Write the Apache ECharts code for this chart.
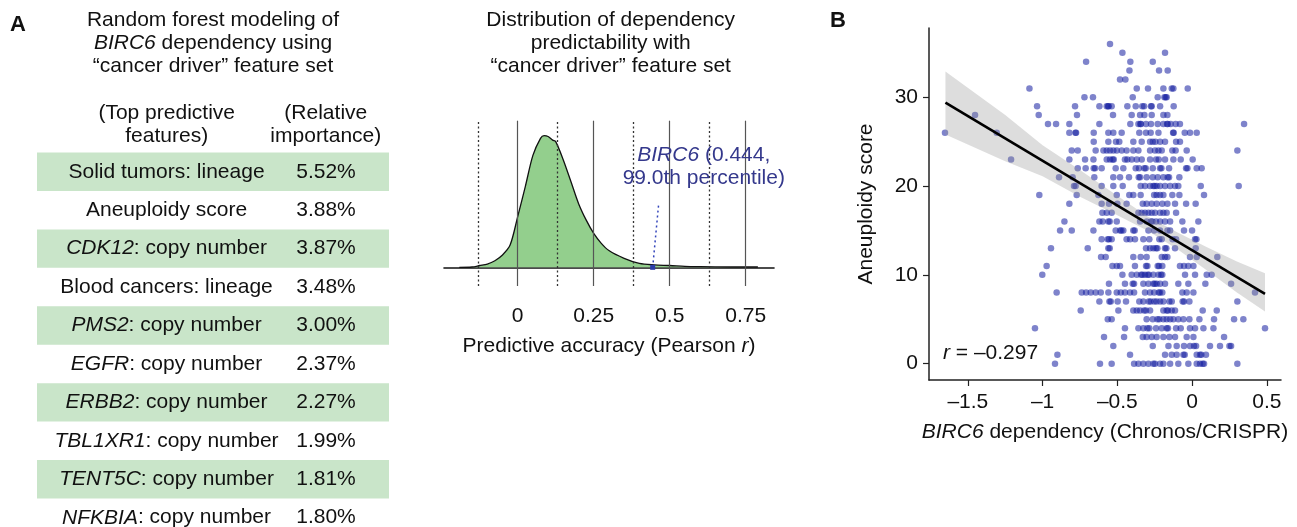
<!DOCTYPE html>
<html>
<head>
<meta charset="utf-8">
<script src="https://cdn.jsdelivr.net/npm/echarts@6/dist/echarts.min.js"></script>
<style>
html, body { margin: 0; padding: 0; background: #fff; }
#contain { width: 1297px; height: 527px; }
</style>
</head>
<body>
<div id="contain"></div>
<script>
// ---- panel A: feature table ----
const featureGene = ['', '', 'CDK12', '', 'PMS2', 'EGFR', 'ERBB2', 'TBL1XR1', 'TENT5C', 'NFKBIA'];
const featureRest = ['Solid tumors: lineage', 'Aneuploidy score', ': copy number', 'Blood cancers: lineage',
  ': copy number', ': copy number', ': copy number', ': copy number', ': copy number', ': copy number'];
const importance = ['5.52%', '3.88%', '3.87%', '3.48%', '3.00%', '2.37%', '2.27%', '1.99%', '1.81%', '1.80%'];
const rowShaded = [1, 0, 1, 0, 1, 0, 1, 0, 1, 0];

// ---- panel A: predictability density ----
const accuracy = [-0.192, -0.15, -0.125, -0.1, -0.075, -0.05, -0.025, 0, 0.025, 0.05, 0.075, 0.087, 0.1, 0.115,
  0.125, 0.15, 0.175, 0.2, 0.225, 0.25, 0.275, 0.3, 0.35, 0.4, 0.45, 0.5, 0.55, 0.6, 0.7, 0.79];
const density = [0, 0.01, 0.06, 0.11, 0.22, 0.41, 0.74, 1.69, 2.69, 3.73, 4.30, 4.39, 4.36, 4.24,
  4.19, 3.58, 2.86, 2.13, 1.58, 1.13, 0.80, 0.56, 0.30, 0.13, 0.08, 0.06, 0.03, 0.02, 0.01, 0.01];
const solidRefs = [0, 0.25, 0.5, 0.75];
const dottedRefs = [-0.125, 0.125, 0.375, 0.625];
const accTicks = [0, 0.25, 0.5, 0.75];
const birc6Acc = 0.444;
const birc6Leader = [0.464, 2.15];

// ---- panel B: aneuploidy vs BIRC6 dependency ----
// index = aneuploidy score, values = BIRC6 Chronos scores of the cell lines on that row
const depByScore = [
  [-0.917, -0.616, -0.538, -0.388, -0.359, -0.326, -0.292, -0.259, -0.248, -0.214, -0.192, -0.147, -0.092, -0.025, 0.031, 0.053, 0.071, 0.080, 0.303],
  [-0.901, -0.415, -0.181, -0.136, -0.103, -0.058, -0.049, 0.031, 0.053, 0.062, 0.093],
  [-0.527, -0.263, -0.158, -0.103, -0.054, -0.014, 0.013, 0.027, 0.120, 0.187, 0.250, 0.261],
  [-0.589, -0.455, -0.330, -0.304, -0.270, -0.237, -0.192, -0.152, -0.114, -0.036, 0.009, 0.214],
  [-1.051, -0.449, -0.359, -0.326, -0.299, -0.286, -0.241, -0.203, -0.170, -0.161, -0.107, -0.076, -0.014, 0.020, 0.076, 0.143, 0.488],
  [-0.564, -0.538, -0.304, -0.263, -0.232, -0.219, -0.192, -0.170, -0.147, -0.125, -0.092, -0.058, -0.018, 0.049, 0.147, 0.281, 0.343],
  [-0.745, -0.493, -0.393, -0.370, -0.348, -0.321, -0.308, -0.281, -0.192, -0.170, -0.161, -0.136, -0.114, 0.071, 0.165],
  [-0.620, -0.553, -0.544, -0.498, -0.442, -0.353, -0.326, -0.290, -0.277, -0.254, -0.237, -0.214, -0.192, -0.152, -0.136, -0.063, -0.054, -0.018, 0.303],
  [-0.906, -0.738, -0.709, -0.678, -0.645, -0.611, -0.560, -0.504, -0.477, -0.449, -0.415, -0.388, -0.315, -0.281, -0.254, -0.223, -0.215, -0.199, -0.065, -0.036, 0.009, 0.421],
  [-0.556, -0.449, -0.397, -0.388, -0.326, -0.292, -0.259, -0.250, -0.237, -0.214, -0.181, -0.092, -0.025, 0.089, 0.261],
  [-1.002, -0.466, -0.404, -0.370, -0.341, -0.332, -0.315, -0.297, -0.288, -0.259, -0.225, -0.208, -0.199, -0.047, 0.020, 0.098, 0.131],
  [-0.973, -0.533, -0.504, -0.482, -0.382, -0.308, -0.299, -0.230, -0.221, -0.199, -0.081, -0.054, -0.025, 0.009],
  [-0.609, -0.578, -0.393, -0.344, -0.304, -0.203, -0.181, -0.165, -0.014, 0.031, 0.169],
  [-0.944, -0.698, -0.560, -0.551, -0.308, -0.281, -0.259, -0.241, -0.232, -0.181, -0.172, -0.114, 0.024],
  [-0.605, -0.564, -0.556, -0.538, -0.438, -0.415, -0.382, -0.326, -0.286, -0.219, -0.203, -0.130, -0.107, 0.020, 0.029],
  [-0.883, -0.805, -0.660, -0.511, -0.482, -0.473, -0.460, -0.393, -0.384, -0.292, -0.254, -0.214, -0.165, -0.147, -0.054, 0.000],
  [-0.854, -0.620, -0.598, -0.560, -0.551, -0.504, -0.348, -0.304, -0.275, -0.266, -0.241, -0.214, -0.181, -0.147, -0.065, 0.042],
  [-0.600, -0.571, -0.538, -0.359, -0.337, -0.315, -0.292, -0.270, -0.248, -0.214, -0.192, -0.170, -0.107],
  [-0.821, -0.605, -0.556, -0.500, -0.438, -0.330, -0.304, -0.270, -0.237, -0.199, -0.165, -0.114, -0.040, 0.024],
  [-1.022, -0.772, -0.627, -0.504, -0.420, -0.393, -0.344, -0.254, -0.237, -0.214, -0.192, -0.132, -0.085, 0.080],
  [-0.790, -0.779, -0.605, -0.527, -0.464, -0.344, -0.315, -0.281, -0.259, -0.250, -0.237, -0.214, -0.181, -0.147, -0.114, -0.092, 0.058, 0.312],
  [-0.890, -0.799, -0.654, -0.527, -0.482, -0.422, -0.357, -0.348, -0.304, -0.263, -0.230, -0.192, -0.163, -0.154, -0.085],
  [-0.765, -0.712, -0.658, -0.649, -0.605, -0.511, -0.460, -0.377, -0.355, -0.319, -0.310, -0.263, -0.214, -0.205, -0.154, -0.040, -0.031, 0.031, 0.064],
  [-1.211, -0.821, -0.716, -0.660, -0.571, -0.549, -0.531, -0.524, -0.449, -0.433, -0.404, -0.370, -0.337, -0.281, -0.241, -0.223, -0.181, -0.125, -0.076, 0.004],
  [-0.805, -0.765, -0.645, -0.593, -0.571, -0.549, -0.527, -0.504, -0.471, -0.438, -0.393, -0.359, -0.281, -0.248, -0.225, -0.203, -0.132, -0.110, -0.036, 0.303],
  [-0.658, -0.560, -0.509, -0.487, -0.393, -0.337, -0.281, -0.263, -0.245, -0.214, -0.181, -0.107, -0.081],
  [-1.653, -1.307, -0.821, -0.780, -0.776, -0.658, -0.560, -0.527, -0.471, -0.353, -0.308, -0.277, -0.225, -0.127, -0.123, -0.049, -0.014, 0.031],
  [-0.964, -0.910, -0.821, -0.620, -0.413, -0.359, -0.346, -0.342, -0.308, -0.275, -0.230, -0.192, -0.167, -0.163, -0.143, -0.110, -0.081, 0.348],
  [-1.452, -1.026, -0.770, -0.529, -0.404, -0.348, -0.319, -0.270, -0.192, -0.165],
  [-1.037, -0.783, -0.620, -0.571, -0.562, -0.558, -0.538, -0.433, -0.377, -0.333, -0.321, -0.275, -0.270, -0.214, -0.123],
  [-0.720, -0.663, -0.397, -0.230, -0.185, -0.177, -0.170],
  [-1.088, -0.370, -0.295, -0.192, -0.136, -0.125, -0.029],
  [-0.482, -0.446],
  [-0.419, -0.221, -0.163],
  [-0.709, -0.413, -0.263],
  [-0.466, -0.181],
  [-0.549]
];
const fitX = [-1.65, 0.488];
const fitY = [29.4, 7.86];
const bandX = [-1.65, -1.25, -1.0, -0.75, -0.5, -0.3, -0.1, 0.1, 0.3, 0.488];
const bandLow = [25.8, 22.8, 21.1, 18.8, 16.7, 15.0, 12.9, 10.5, 8.0, 5.86];
const bandHigh = [32.9, 28.0, 24.6, 21.8, 18.9, 16.6, 14.8, 13.1, 11.5, 10.19];
const depTicks = [-1.5, -1, -0.5, 0, 0.5];
const scoreTicks = [0, 10, 20, 30];
const pearsonR = '–0.297';

const FONT = "'Liberation Sans', Arial, sans-serif";
const ink = '#111';
const clear = 'rgba(0,0,0,0)';

const chart = echarts.init(document.getElementById('contain'));

const points = [];
depByScore.forEach((row, score) => row.forEach(d => points.push([d, score])));

const fmtDash = v => (v < 0 ? '–' : '') + Math.abs(v);

const txt = (x, y, text, extra) => ({
  type: 'text', x: x, y: y, silent: true,
  style: Object.assign({
    text: text, align: 'center', verticalAlign: 'middle',
    fontSize: 21, fontFamily: FONT, fill: ink, lineHeight: 23.3,
    rich: { i: { fontStyle: 'italic', fontSize: 21, fontFamily: FONT, fill: ink, lineHeight: 23.3 } }
  }, extra || {})
});

const option = {
  animation: false,
  textStyle: { fontFamily: FONT },
  graphic: [
    txt(18, 25, 'A', { fontWeight: 'bold', fontSize: 22 }),
    txt(838, 21, 'B', { fontWeight: 'bold', fontSize: 22 }),
    txt(213, 43.3, 'Random forest modeling of\n{i|BIRC6} dependency using\n“cancer driver” feature set'),
    txt(610.7, 43.3, 'Distribution of dependency\npredictability with\n“cancer driver” feature set'),
    txt(166.7, 124.5, '(Top predictive\nfeatures)', { lineHeight: 22.5 }),
    txt(325.8, 124.5, '(Relative\nimportance)', { lineHeight: 22.5 }),
    txt(943, 353.3, '{i|r} = ' + pearsonR, { align: 'left' })
  ],
  grid: [
    { left: 37, top: 152.5, width: 352, height: 384.4, outerBoundsMode: 'none' },
    { left: 444, top: 120.7, width: 330, height: 165.3, outerBoundsMode: 'none' },
    { left: 929, top: 28, width: 352, height: 352, outerBoundsMode: 'none' }
  ],
  xAxis: [
    { gridIndex: 0, type: 'value', min: 0, max: 1, show: false },
    {
      gridIndex: 1, type: 'value', min: -0.2424, max: 0.843, offset: 10,
      splitLine: { show: false },
      axisLine: { lineStyle: { color: ink, width: 1.6 } },
      axisTick: { show: false },
      axisLabel: { customValues: accTicks, formatter: v => String(v), fontSize: 21, color: ink, margin: 10 },
      name: 'Predictive accuracy (Pearson {i|r})', nameLocation: 'middle', nameGap: 40,
      nameTextStyle: { fontSize: 21, color: ink, rich: { i: { fontStyle: 'italic', fontSize: 21, color: ink } } }
    },
    {
      gridIndex: 2, type: 'value', min: -1.76, max: 0.595,
      splitLine: { show: false },
      axisLine: { onZero: false, lineStyle: { color: '#222', width: 1.5 } },
      axisTick: { customValues: depTicks, length: 6, lineStyle: { color: '#222', width: 1.2 } },
      axisLabel: { customValues: depTicks, formatter: fmtDash, fontSize: 21, color: ink, margin: 12 },
      name: '{i|BIRC6} dependency (Chronos/CRISPR)', nameLocation: 'middle', nameGap: 42,
      nameTextStyle: { fontSize: 21, color: ink, rich: { i: { fontStyle: 'italic', fontSize: 21, color: ink } } }
    }
  ],
  yAxis: [
    { gridIndex: 0, type: 'category', inverse: true, data: importance.map((_, i) => i), show: false },
    { gridIndex: 1, type: 'value', min: -0.623, max: 4.887, show: false },
    {
      gridIndex: 2, type: 'value', min: -1.84, max: 37.8,
      splitLine: { show: false },
      axisLine: { show: true, onZero: false, lineStyle: { color: '#222', width: 1.5 } },
      axisTick: { show: true, customValues: scoreTicks, length: 6, lineStyle: { color: '#222', width: 1.2 } },
      axisLabel: { customValues: scoreTicks, fontSize: 21, color: ink, margin: 11 },
      name: 'Aneuploidy score', nameLocation: 'middle', nameGap: 52,
      nameTextStyle: { fontSize: 21, color: ink }
    }
  ],
  series: [
    // table shading
    {
      type: 'bar', xAxisIndex: 0, yAxisIndex: 0, data: rowShaded,
      barWidth: '100%', itemStyle: { color: '#c9e5c9' }, silent: true
    },
    // table text: features
    {
      type: 'scatter', xAxisIndex: 0, yAxisIndex: 0, symbolSize: 1, itemStyle: { color: clear, opacity: 1 },
      data: featureRest.map((_, i) => [0.368, i]), z: 5, clip: false,
      label: {
        show: true, position: 'inside', fontSize: 21, color: ink,
        formatter: p => (featureGene[p.dataIndex] ? '{i|' + featureGene[p.dataIndex] + '}' : '') + featureRest[p.dataIndex],
        rich: { i: { fontStyle: 'italic', fontSize: 21, color: ink } }
      }, silent: true
    },
    // table text: importances
    {
      type: 'scatter', xAxisIndex: 0, yAxisIndex: 0, symbolSize: 1, itemStyle: { color: clear, opacity: 1 },
      data: importance.map((_, i) => [0.821, i]), z: 5, clip: false,
      label: { show: true, position: 'inside', fontSize: 21, color: ink, formatter: p => importance[p.dataIndex] },
      silent: true
    },
    // density
    {
      type: 'line', xAxisIndex: 1, yAxisIndex: 1, smooth: 0.3, symbol: 'none',
      data: accuracy.map((a, i) => [a, density[i]]),
      lineStyle: { color: ink, width: 1.3 },
      areaStyle: { color: '#93cf8d', opacity: 1 },
      markLine: {
        silent: true, symbol: ['none', 'none'], label: { show: false },
        data: solidRefs.map(v => ({ xAxis: v, lineStyle: { type: 'solid', color: '#555', width: 1.2 } }))
          .concat(dottedRefs.map(v => ({ xAxis: v, lineStyle: { type: [2, 2.5], color: '#333', width: 1.3 } })))
      }
    },
    // BIRC6 leader line
    {
      type: 'line', xAxisIndex: 1, yAxisIndex: 1, symbol: 'none', z: 5,
      data: [[birc6Acc, 0], birc6Leader],
      lineStyle: { color: '#3344bb', type: [2, 3], width: 1.5 }
    },
    {
      type: 'scatter', xAxisIndex: 1, yAxisIndex: 1, symbol: 'rect', symbolSize: 5, z: 6,
      data: [[birc6Acc, 0]], itemStyle: { color: '#2a3aa8', opacity: 1 }
    },
    {
      type: 'scatter', xAxisIndex: 1, yAxisIndex: 1, symbolSize: 1, z: 6,
      data: [birc6Leader], itemStyle: { color: clear, opacity: 1 }, silent: true,
      label: {
        show: true, position: 'top', distance: 4, offset: [45, -8],
        fontSize: 21, color: '#34388c', lineHeight: 23.3, align: 'center',
        formatter: '{i|BIRC6} (' + birc6Acc + ',\n99.0th percentile)',
        rich: { i: { fontStyle: 'italic', fontSize: 21, color: '#34388c', lineHeight: 23.3 } }
      }
    },
    // scatter points
    {
      type: 'scatter', xAxisIndex: 2, yAxisIndex: 2, symbolSize: 6.5, data: points,
      itemStyle: { color: 'rgba(20,30,160,0.55)', opacity: 1 }
    },
    // confidence band
    {
      type: 'custom', xAxisIndex: 2, yAxisIndex: 2, silent: true, z: 3,
      data: bandX.map((x, i) => [x, bandLow[i], bandHigh[i]]),
      renderItem: (params, api) => {
        if (params.dataIndex !== 0) return null;
        const upper = bandX.map((x, i) => api.coord([x, bandHigh[i]]));
        const lower = bandX.map((x, i) => api.coord([x, bandLow[i]])).reverse();
        return {
          type: 'polygon',
          shape: { points: upper.concat(lower) },
          style: { fill: 'rgba(150,150,150,0.32)' }
        };
      }
    },
    // fit line
    {
      type: 'line', xAxisIndex: 2, yAxisIndex: 2, symbol: 'none', z: 4,
      data: fitX.map((x, i) => [x, fitY[i]]), lineStyle: { color: '#000', width: 2.6 }
    }
  ]
};

chart.setOption(option);
</script>
</body>
</html>
